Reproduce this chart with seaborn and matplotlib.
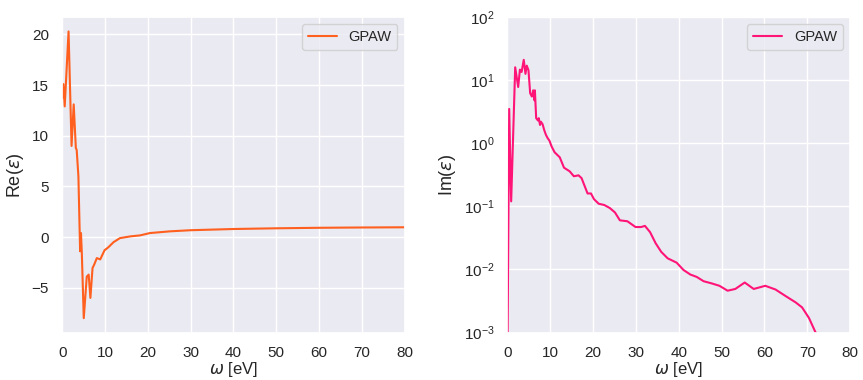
import numpy as np
import pandas as pd
import matplotlib
matplotlib.use("Agg")
import matplotlib.pyplot as plt
import seaborn as sns

# Real part of dielectric function
re_omega = [0.0, 0.3, 0.6, 1.5, 2.2, 2.7, 3.2, 3.4, 3.8, 4.2, 4.4, 4.6, 5.05, 5.75, 6.2,
            6.6, 7.1, 7.5, 8.1, 8.9, 9.9, 10.8, 12.0, 13.5, 15.9, 18.2, 20.5, 25.2, 30.0,
            40.0, 50.0, 60.0, 70.0, 80.0]
re_eps = [13.7, 15.1, 12.9, 20.3, 9.0, 13.1, 8.8, 8.6, 6.0, -1.4, 0.4, -1.6, -8.0, -3.9, -3.7,
          -6.0, -3.05, -2.7, -2.07, -2.2, -1.3, -1.0, -0.5, -0.1, 0.07, 0.17, 0.4, 0.57, 0.68,
          0.8, 0.87, 0.92, 0.95, 0.97]

# Imaginary part of dielectric function
im_omega = [0.0, 0.4, 0.86, 1.8, 2.5, 2.9, 3.3, 3.8, 4.2, 4.5, 4.9, 5.3, 5.7, 6.0, 6.3, 6.4,
            6.7, 7.1, 7.3, 7.6, 7.8, 8.2, 8.6, 9.0, 9.4, 9.8, 10.3, 11.0, 12.2, 13.2, 14.5,
            15.5, 16.6, 17.3, 18.7, 19.5, 20.2, 21.3, 22.6, 23.9, 25.1, 26.25, 28.0, 29.9,
            31.2, 32.1, 33.3, 34.6, 35.9, 37.4, 39.5, 41.1, 42.7, 44.2, 45.8, 47.7, 49.5,
            51.4, 53.2, 55.4, 57.5, 60.2, 62.6, 64.9, 67.3, 68.8, 70.4, 71.95, 73.0]
im_eps = [0.0005, 3.5, 0.12, 16.0, 7.8, 14.7, 13.5, 21.0, 12.6, 17.0, 14.4, 6.2, 5.5, 6.9, 4.8,
          6.9, 2.5, 2.3, 2.5, 1.95, 2.2, 2.0, 1.6, 1.35, 1.2, 1.1, 0.89, 0.72, 0.6, 0.41, 0.36,
          0.30, 0.31, 0.28, 0.16, 0.16, 0.13, 0.11, 0.105, 0.094, 0.08, 0.06, 0.058, 0.047,
          0.047, 0.049, 0.039, 0.026, 0.019, 0.015, 0.0128, 0.0098, 0.0083, 0.0076, 0.0065,
          0.006, 0.0055, 0.0046, 0.0049, 0.0062, 0.0049, 0.0055, 0.0048, 0.0038, 0.003,
          0.0025, 0.0017, 0.001, 0.0007]

x_ticks = [0, 10, 20, 30, 40, 50, 60, 70, 80]

sns.set_theme(style="darkgrid")
plt.rcParams['font.family'] = ['Liberation Sans', 'DejaVu Sans']

df_re = pd.DataFrame({"omega": re_omega, "eps": re_eps, "label": "GPAW"})
df_im = pd.DataFrame({"omega": im_omega, "eps": im_eps, "label": "GPAW"})

fig, axes = plt.subplots(1, 2, figsize=(8.63, 3.8), dpi=100)

ax = axes[0]
sns.lineplot(data=df_re, x="omega", y="eps", hue="label", palette=["#ff5f1f"],
             ax=ax, linewidth=1.5, sort=False)
ax.set_xlim(0, 80)
ax.set_xticks(x_ticks)
ax.set_xlabel(r"$\omega$ [eV]", fontsize=12, labelpad=0)
ax.set_ylabel(r"Re($\varepsilon$)", fontsize=13)
ax.tick_params(labelsize=11)
ax.legend(loc="upper right", fontsize=10.5)

ax = axes[1]
sns.lineplot(data=df_im, x="omega", y="eps", hue="label", palette=["#ff1477"],
             ax=ax, linewidth=1.5, sort=False)
ax.set_yscale("log")
ax.set_xlim(0, 80)
ax.set_xticks(x_ticks)
ax.set_ylim(1e-3, 1e2)
ax.set_xlabel(r"$\omega$ [eV]", fontsize=12, labelpad=0)
ax.set_ylabel(r"Im($\varepsilon$)", fontsize=13)
ax.tick_params(labelsize=11)
ax.legend(loc="upper right", fontsize=10.5)

fig.subplots_adjust(left=0.072, right=0.985, top=0.955, bottom=0.125, wspace=0.3)
fig.savefig("out.png", dpi=100)
